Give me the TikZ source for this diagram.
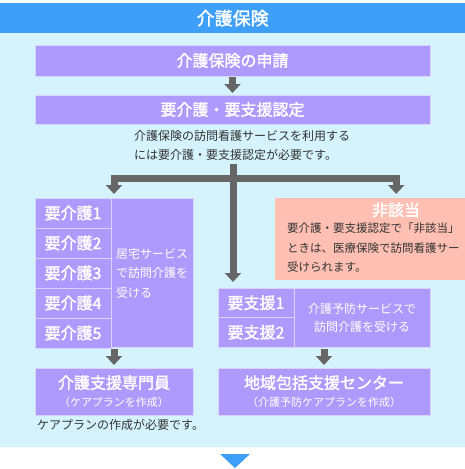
\documentclass[tikz,border=0pt]{standalone}
\usepackage{fontspec}
\setmainfont{Noto Sans CJK JP}
\newfontfamily\medfont{Noto Sans CJK JP}[FakeBold=1.8]
\usetikzlibrary{arrows.meta,positioning}
\definecolor{headblue}{HTML}{3D9FF8}
\definecolor{panelblue}{HTML}{D5F3FD}
\definecolor{lav}{HTML}{AE9AFC}
\definecolor{lavline}{HTML}{DAD2FF}
\definecolor{salmon}{HTML}{FFC0B3}
\definecolor{arrgray}{HTML}{666666}
\definecolor{txtgray}{HTML}{333333}
\newcommand\fsz[2]{\fontsize{#1pt}{#2pt}\selectfont}
\begin{document}
\begin{tikzpicture}
  [x=1pt,y=-1pt,
   box/.style={draw=lavline,fill=lav,line width=1pt,text=white,inner sep=0pt,outer sep=0pt,
     anchor=north west,align=center,font=\fsz{16}{19}\medfont},
   note/.style={text=txtgray,inner sep=0pt,align=left,font=\fsz{12}{19.5}},
   arr/.style={draw=arrgray,line width=7pt,-{Triangle[width=16pt,length=9pt]}}]
  \useasboundingbox (0,0) rectangle (465,469);
  \clip (0,0) rectangle (465,469);
  \fill[panelblue] (0,33) rectangle (465,447);
  \node[fill=headblue,text=white,inner sep=0pt,minimum width=465pt,minimum height=30pt,
    anchor=north west,font=\fsz{18}{20}\medfont] (title) at (0,3) {介護保険};

  \node[box,minimum width=395pt,minimum height=31pt] (apply) at (35,45) {介護保険の申請};
  \node[box,minimum width=395pt,minimum height=29pt] (cert) at (35,95) {要介護・要支援認定};
  \node[note,anchor=north west] (certnote) at (134,130)
    {介護保険の訪問看護サービスを利用する\\には要介護・要支援認定が必要です。};

  \foreach \i in {1,...,5}
    \node[box,minimum width=76pt,minimum height=30pt] (k\i) at (35,{198+(\i-1)*30}) {要介護\i};
  \node[box,minimum width=82pt,minimum height=149pt] (kyotaku) at (111,198) {};
  \node[note,text=white,anchor=west] (kyotakutxt) at (116,273)
    {居宅サービス\\で訪問介護を\\受ける};

  \node[fill=salmon,inner sep=0pt,minimum width=242pt,minimum height=82pt,anchor=north west]
    (hitogai) at (275,198) {};
  \node[text=white,inner sep=0pt,font=\fsz{16}{19}\medfont] (hitogaittl) at (396,210) {非該当};
  \node[note,anchor=north west,font=\fsz{11.5}{19.5}] (hitogaitxt) at (287,223)
    {要介護・要支援認定で「非該当」\\ときは、医療保険で訪問看護サー\\受けられます。};

  \node[box,minimum width=76pt,minimum height=29.5pt] (s1) at (218,288) {要支援1};
  \node[box,minimum width=76pt,minimum height=29.5pt] (s2) at (218,317.5) {要支援2};
  \node[box,minimum width=136pt,minimum height=59pt,font=\fsz{12}{18}] (yobou) at (294,288)
    {介護予防サービスで\\訪問介護を受ける};

  \node[box,minimum width=158pt,minimum height=47pt] (senmon) at (35,368)
    {介護支援専門員\\[-1pt]{\fsz{11}{13}\normalfont（ケアプランを作成）}};
  \node[box,minimum width=212pt,minimum height=47pt] (center) at (218,368)
    {地域包括支援センター\\[-1pt]{\fsz{11}{13}\normalfont（介護予防ケアプランを作成）}};
  \node[note,anchor=west] (carenote) at (37,425) {ケアプランの作成が必要です。};

  \draw[arr,shorten <=1pt,shorten >=2pt] (apply) -- (cert);
  \coordinate (stem) at (233,164);
  \coordinate (fork) at (233,178.5);
  \draw[arr,shorten >=6pt] (stem) -- (s1.north -| stem);
  \draw[arr,shorten >=4pt] (fork) -| (senmon.north |- k1.north);
  \draw[arr,shorten >=4pt] (fork) -| (hitogai.north);
  \draw[arr,shorten <=2pt,shorten >=3pt] (senmon.north |- kyotaku.south) -- (senmon.north);
  \draw[arr,shorten <=2pt,shorten >=3pt] (center.north |- yobou.south) -- (center.north);

  \fill[headblue] (220,454) -- (250,454) -- (235,468) -- cycle;
\end{tikzpicture}
\end{document}
